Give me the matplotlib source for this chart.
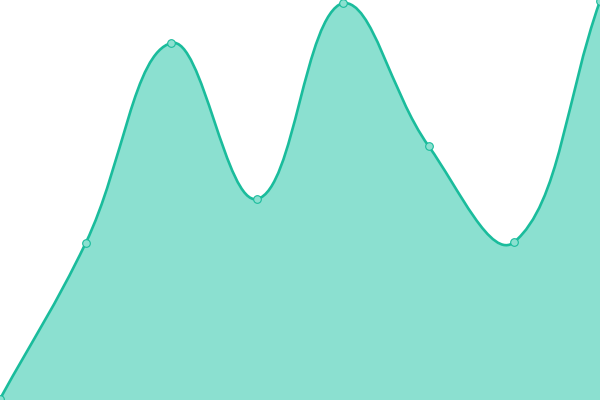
import numpy as np
import matplotlib
matplotlib.use("Agg")
import matplotlib.pyplot as plt
from matplotlib.path import Path
from matplotlib.patches import PathPatch

# series values (0..400 scale)
labels = ["p1", "p2", "p3", "p4", "p5", "p6", "p7", "p8"]
values = [1, 157, 357, 201, 397, 254, 158, 399]

lineColor = "#1abc9c"
fillColor = "#8be0d0"
tension = 0.4

fig = plt.figure(figsize=(6, 4), dpi=100)
ax = fig.add_axes([0, 0, 1, 1])
ax.set_xlim(0, len(values) - 1)
ax.set_ylim(0, 400)
ax.axis("off")

x = np.arange(len(values))
pts = ax.transData.transform(np.column_stack([x, values]))
x0, y0 = ax.transData.transform((0, 0))
x1, y1 = ax.transData.transform((len(values) - 1, 400))

# spline control points worked out in pixel space (chart.js style)
n = len(pts)
cpPrev = pts.copy()
cpNext = pts.copy()
for i in range(n):
	cur = pts[i]
	prev = pts[i - 1] if i > 0 else cur
	nxt = pts[i + 1] if i < n - 1 else cur
	d01 = np.hypot(*(cur - prev))
	d12 = np.hypot(*(nxt - cur))
	s01 = d01 / (d01 + d12)
	s12 = d12 / (d01 + d12)
	cpPrev[i] = cur - tension * s01 * (nxt - prev)
	cpNext[i] = cur + tension * s12 * (nxt - prev)
cpPrev[:, 0] = np.clip(cpPrev[:, 0], x0, x1)
cpNext[:, 0] = np.clip(cpNext[:, 0], x0, x1)
cpPrev[:, 1] = np.clip(cpPrev[:, 1], y0, y1)
cpNext[:, 1] = np.clip(cpNext[:, 1], y0, y1)

inv = ax.transData.inverted()
verts = [pts[0]]
codes = [Path.MOVETO]
for i in range(1, n):
	verts += [cpNext[i - 1], cpPrev[i], pts[i]]
	codes += [Path.CURVE4] * 3
verts = inv.transform(np.array(verts))

linePath = Path(verts, codes)
fillVerts = np.vstack([verts, [[x[-1], 0], [x[0], 0], verts[0]]])
fillCodes = codes + [Path.LINETO, Path.LINETO, Path.CLOSEPOLY]
fillPath = Path(fillVerts, fillCodes)

ax.add_patch(PathPatch(fillPath, facecolor=fillColor, edgecolor="none", zorder=1))
ax.add_patch(PathPatch(linePath, facecolor="none", edgecolor=lineColor, linewidth=1.9, zorder=2, clip_on=False))
ax.plot(x, values, linestyle="none", marker="o", markersize=5.5, markerfacecolor=fillColor,
		markeredgecolor=lineColor, markeredgewidth=0.8, zorder=3, clip_on=False)

fig.savefig("out.png", dpi=100)
